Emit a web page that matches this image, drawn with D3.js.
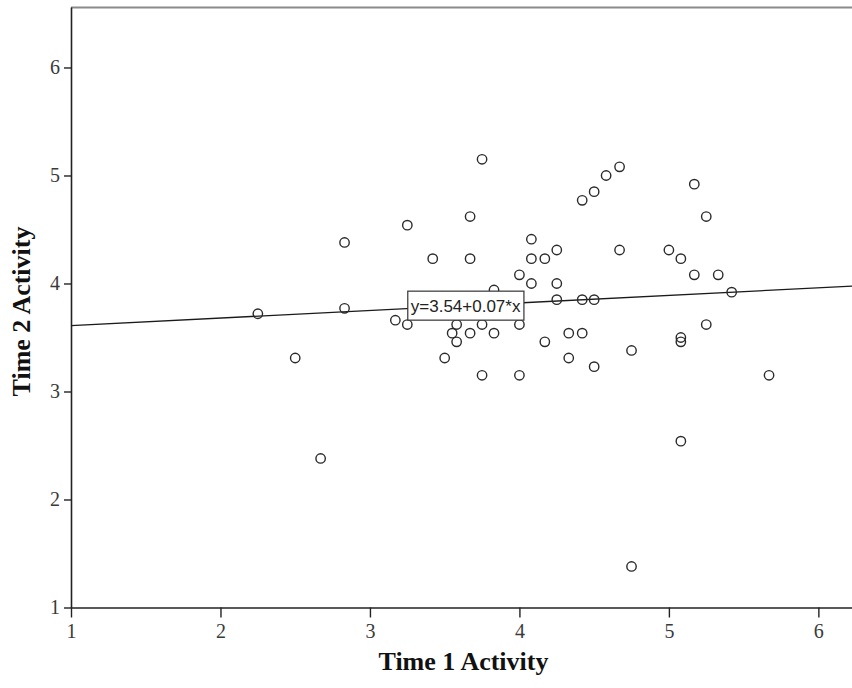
<!DOCTYPE html>
<html>
<head>
<meta charset="utf-8">
<script src="https://cdn.jsdelivr.net/npm/d3@7"></script>
<style>
  html, body { margin: 0; padding: 0; background: #fff; }
  svg { display: block; }
</style>
</head>
<body>
<svg id="chart" width="852" height="688"></svg>
<script>
// ---- data ----
const time1 = [2.25, 2.50, 2.67, 2.83, 2.83, 3.17, 3.25, 3.25, 3.42, 3.50,
               3.55, 3.58, 3.58, 3.67, 3.67, 3.67, 3.75, 3.75, 3.75, 3.83,
               3.83, 4.00, 4.00, 4.00, 4.08, 4.08, 4.08, 4.17, 4.17, 4.25,
               4.25, 4.25, 4.33, 4.33, 4.42, 4.42, 4.42, 4.50, 4.50, 4.50,
               4.58, 4.67, 4.67, 4.75, 4.75, 5.00, 5.08, 5.08, 5.08, 5.08,
               5.17, 5.17, 5.25, 5.25, 5.33, 5.42, 5.67];
const time2 = [3.72, 3.31, 2.38, 4.38, 3.77, 3.66, 4.54, 3.62, 4.23, 3.31,
               3.54, 3.62, 3.46, 4.62, 4.23, 3.54, 5.15, 3.62, 3.15, 3.94,
               3.54, 4.08, 3.62, 3.15, 4.41, 4.23, 4.00, 4.23, 3.46, 4.31,
               4.00, 3.85, 3.54, 3.31, 4.77, 3.85, 3.54, 4.85, 3.85, 3.23,
               5.00, 5.08, 4.31, 3.38, 1.38, 4.31, 4.23, 3.50, 3.46, 2.54,
               4.92, 4.08, 4.62, 3.62, 4.08, 3.92, 3.15];
const xTicks = [1, 2, 3, 4, 5, 6];
const yTicks = [1, 2, 3, 4, 5, 6];
const fitIntercept = 3.54;
const fitSlope = 0.07;
const fitLabel = "y=3.54+0.07*x";
const labelAtX = 3.64;
const xTitle = "Time 1 Activity";
const yTitle = "Time 2 Activity";

// ---- layout ----
const svg = d3.select("#chart");
const pL = 71, pR = 852, pT = 7, pB = 607.5;

const x = d3.scaleLinear().domain([1, 6.225]).range([pL, pR]);
const y = d3.scaleLinear().domain([1, 6.56]).range([pB, pT]);

// top frame line
svg.append("line")
  .attr("x1", pL).attr("x2", pR)
  .attr("y1", pT + 0.5).attr("y2", pT + 0.5)
  .attr("stroke", "#8a8a8a").attr("stroke-width", 2);

// axes
const fontTick = "'Liberation Serif', 'Times New Roman', serif";

const xAxis = svg.append("g")
  .attr("transform", `translate(0,${pB})`)
  .call(d3.axisBottom(x).tickValues(xTicks).tickFormat(d3.format("d"))
        .tickSize(10).tickSizeOuter(0).tickPadding(6));
const yAxis = svg.append("g")
  .attr("transform", `translate(${pL},0)`)
  .call(d3.axisLeft(y).tickValues(yTicks).tickFormat(d3.format("d"))
        .tickSize(7).tickSizeOuter(0).tickPadding(4));

[xAxis, yAxis].forEach(g => {
  g.select(".domain").attr("stroke", "#222").attr("stroke-width", 1.6);
  g.selectAll(".tick line").attr("stroke", "#222").attr("stroke-width", 1.4);
  g.selectAll(".tick text")
    .attr("font-family", fontTick)
    .attr("font-size", 20)
    .attr("fill", "#3a3a3a");
});

// regression line
const xd = x.domain();
svg.append("line")
  .attr("x1", x(xd[0])).attr("y1", y(fitIntercept + fitSlope * xd[0]))
  .attr("x2", x(xd[1])).attr("y2", y(fitIntercept + fitSlope * xd[1]))
  .attr("stroke", "#1a1a1a").attr("stroke-width", 1.3);

// points
svg.append("g").selectAll("circle")
  .data(time1.map((d, i) => [d, time2[i]]))
  .join("circle")
  .attr("cx", d => x(d[0]))
  .attr("cy", d => y(d[1]))
  .attr("r", 4.7)
  .attr("fill", "none")
  .attr("stroke", "#2a2a2a")
  .attr("stroke-width", 1.4);

// fit label box
const lg = svg.append("g");
const lx = x(labelAtX), ly = y(fitIntercept + fitSlope * labelAtX);
const rect = lg.append("rect");
const txt = lg.append("text")
  .attr("x", lx).attr("y", ly + 1)
  .attr("text-anchor", "middle")
  .attr("dominant-baseline", "central")
  .attr("font-family", "'Liberation Sans', Arial, sans-serif")
  .attr("font-size", 17)
  .attr("fill", "#222")
  .text(fitLabel);
const bb = txt.node().getBBox();
rect.attr("x", bb.x - 3).attr("y", ly - 14.5)
  .attr("width", bb.width + 6).attr("height", 29)
  .attr("fill", "#fff").attr("stroke", "#333").attr("stroke-width", 1.2);

// axis titles
const fontTitle = "'Liberation Serif', 'Times New Roman', serif";
svg.append("text")
  .attr("x", 463.5).attr("y", 670)
  .attr("text-anchor", "middle")
  .attr("font-family", fontTitle).attr("font-weight", "bold")
  .attr("font-size", 26).attr("fill", "#111")
  .text(xTitle);
svg.append("text")
  .attr("transform", `translate(30,311.5) rotate(-90)`)
  .attr("text-anchor", "middle")
  .attr("font-family", fontTitle).attr("font-weight", "bold")
  .attr("font-size", 26).attr("fill", "#111")
  .text(yTitle);
</script>
</body>
</html>
